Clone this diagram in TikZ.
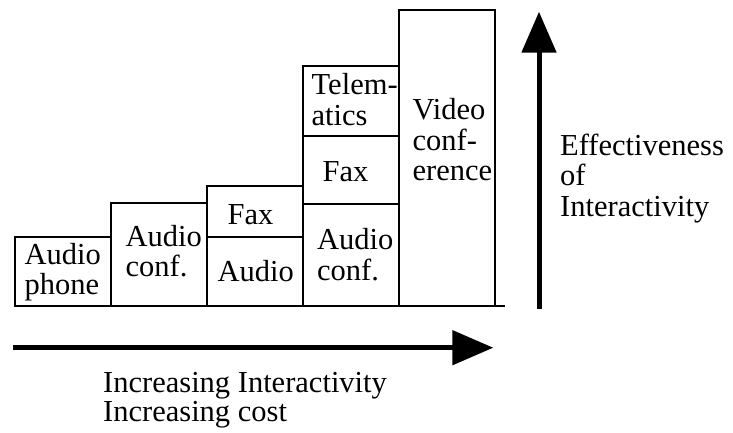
\documentclass[tikz,border=0pt]{standalone}
\usepackage{fontspec}
\setmainfont[Ligatures=CommonOff]{Liberation Serif}
\usepackage{tikz}
\usetikzlibrary{arrows.meta,positioning}

\begin{document}
\begin{tikzpicture}[x=1pt,y=1pt,
    cell/.style={draw,line width=2.4pt,rectangle,anchor=south west,minimum width=96pt,inner sep=0pt,outer sep=0pt},
    lbl/.style={anchor=base west,inner sep=0pt,align=left,font=\fontsize{30.5}{30.5}\selectfont},
    bigarrow/.style={line width=5pt,-{Triangle[length=41pt,width=34pt]}}]
    \useasboundingbox (0,0) rectangle (733,432);

    % stacked boxes
    \node[cell,minimum height=69pt] (phone) at (15,126) {};
    \node[cell,minimum height=103pt] (aconf) at (phone.south east) {};
    \node[cell,minimum height=69pt] (aud) at (aconf.south east) {};
    \node[cell,minimum height=51pt,above=0pt of aud] (fax) {};
    \node[cell,minimum height=102pt] (aconfb) at (aud.south east) {};
    \node[cell,minimum height=68pt,above=0pt of aconfb] (faxb) {};
    \node[cell,minimum height=70pt,above=0pt of faxb] (tele) {};
    \node[cell,minimum height=296pt] (video) at (aconfb.south east) {};

    \coordinate (axisend) at (505,126);
    \draw[line width=2.4pt] (phone.south west) -- (axisend);

    % box texts (base = last line)
    \node[lbl] (tphone) at (24.5,137.5) {Audio\\phone};
    \node[lbl] (taconf) at (125.5,155.3) {Audio\\conf.};
    \node[lbl] (tfax) at (227.5,207.7) {Fax};
    \node[lbl] (taud) at (217.5,150.3) {Audio};
    \node[lbl] (ttele) at (311.5,307) {Telem-\\atics};
    \node[lbl] (tfaxb) at (322.5,250.3) {Fax};
    \node[lbl] (taconfb) at (317,152) {Audio\\conf.};
    \node[lbl] (tvideo) at (412.5,251.3) {Video\\conf-\\erence};

    % axes
    \coordinate (vlow) at (539,123);
    \coordinate (vhigh) at (539,420.3);
    \draw[bigarrow] (vlow) -- (vhigh);
    \node[lbl] (teff) at (560,216) {Effectiveness\\of\\Interactivity};

    \coordinate (hleft) at (13.3,84.3);
    \coordinate (hright) at (493.3,84.3);
    \draw[bigarrow] (hleft) -- (hright);
    \node[lbl,font=\fontsize{30.5}{29}\selectfont] (tinc) at (103,10.3) {Increasing Interactivity\\Increasing cost};
\end{tikzpicture}
\end{document}
